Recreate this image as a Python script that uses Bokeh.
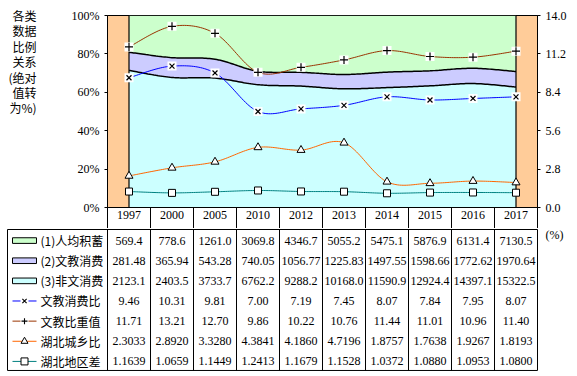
from bokeh.plotting import figure
from bokeh.models import Range1d, LinearAxis, FixedTicker, ColumnDataSource, PrintfTickFormatter
from bokeh.layouts import column
from bokeh.embed import file_html
from bokeh.resources import INLINE
from bokeh.core.properties import value
import numpy as np

# ---------------- data ----------------
years = ["1997", "2000", "2005", "2010", "2012", "2013", "2014", "2015", "2016", "2017"]
savings = [569.4, 778.6, 1261.0, 3069.8, 4346.7, 5055.2, 5475.1, 5876.9, 6131.4, 7130.5]
culture = [281.48, 365.94, 543.28, 740.05, 1056.77, 1225.83, 1497.55, 1598.66, 1772.62, 1970.64]
nonculture = [2123.1, 2403.5, 3733.7, 6762.2, 9288.2, 10168.0, 11590.9, 12924.4, 14397.1, 15322.5]
culture_ratio = [9.46, 10.31, 9.81, 7.00, 7.19, 7.45, 8.07, 7.84, 7.95, 8.07]
culture_weight = [11.71, 13.21, 12.70, 9.86, 10.22, 10.76, 11.44, 11.01, 10.96, 11.40]
urban_rural = [2.3033, 2.8920, 3.3280, 4.3841, 4.1860, 4.7196, 1.8757, 1.7638, 1.9267, 1.8193]
regional_gap = [1.1639, 1.0659, 1.1449, 1.2413, 1.1679, 1.1528, 1.0372, 1.0880, 1.0953, 1.0800]

row_labels = ["(1)人均积蓄", "(2)文教消费", "(3)非文消费", "文教消费比", "文教比重值", "湖北城乡比", "湖北地区差"]
row_decimals = [1, 2, 1, 2, 2, 4, 4]
title_lines = ["各类", "数据", "比例", "关系", "(绝对", "值转", "为%)"]
left_ticks = [0, 20, 40, 60, 80, 100]
right_ticks = [0.0, 2.8, 5.6, 8.4, 11.2, 14.0]
unit_label = "(%)"

SERIF = "Liberation Serif"
CJK = "Noto Sans CJK SC"
C_SAV, C_CUL, C_NON, C_BG = "#CCFFCC", "#CCCCFF", "#CCFFFF", "#FFCC99"
C_RATIO, C_WEIGHT, C_UR, C_GAP = "#0000FF", "#993300", "#FF6600", "#008080"

n = len(years)
xs = np.arange(n) + 0.5
total = np.array(savings) + np.array(culture) + np.array(nonculture)
pct_non = np.array(nonculture) / total * 100
pct_cul_non = (np.array(nonculture) + np.array(culture)) / total * 100


def smooth(ys, k=24):
    P = np.column_stack([xs, np.asarray(ys, float)])
    out = []
    for i in range(len(P) - 1):
        p0 = P[i - 1] if i > 0 else P[i]
        p1, p2 = P[i], P[i + 1]
        p3 = P[i + 2] if i + 2 < len(P) else P[i + 1]
        c1 = p1 + (p2 - p0) / 6
        c2 = p2 - (p3 - p1) / 6
        t = np.linspace(0, 1, k, endpoint=(i == len(P) - 2))[:, None]
        out.append((1 - t) ** 3 * p1 + 3 * (1 - t) ** 2 * t * c1 + 3 * (1 - t) * t ** 2 * c2 + t ** 3 * p2)
    B = np.vstack(out)
    return B[:, 0], B[:, 1]


def no_align(fig):
    if "frame_align" in fig.properties():
        fig.frame_align = False


# ---------------- chart ----------------
CW = 43.0          # px per category column
PY = 1.92          # px per percent
p = figure(width=577, height=228, x_range=Range1d(0, 10), y_range=Range1d(0, 100),
           output_backend="svg", toolbar_location=None,
           min_border_left=107, min_border_right=40, min_border_top=15, min_border_bottom=21,
           x_axis_location=None, y_axis_location=None,
           background_fill_color=C_BG, border_fill_color="white",
           outline_line_color="black", outline_line_width=1)
no_align(p)
p.extra_y_ranges = {"r": Range1d(0, 14)}
p.xgrid.visible = False
p.ygrid.visible = False


def style_axis(ax):
    ax.axis_line_color = "black"
    ax.major_tick_line_color = "black"
    ax.major_label_text_font = SERIF
    ax.major_label_text_font_size = "12px"
    ax.major_label_text_color = "black"


la = LinearAxis(ticker=FixedTicker(ticks=left_ticks, minor_ticks=[]), formatter=PrintfTickFormatter(format="%d%%"))
style_axis(la)
la.major_tick_out = 3
la.major_tick_in = 0
la.major_label_standoff = 5
p.add_layout(la, "left")

# multi-line title at the far left, rendered as an outer axis whose labels are the title lines
title_pos = [(207 - (15 + i * 15.4)) / PY for i in range(len(title_lines))]
ta = LinearAxis(ticker=FixedTicker(ticks=title_pos, minor_ticks=[]),
                major_label_overrides={float(v): s for v, s in zip(title_pos, title_lines)})
ta.axis_line_color = None
ta.major_tick_line_color = None
ta.minor_tick_line_color = None
ta.major_tick_out = 0
ta.major_tick_in = 0
ta.major_label_text_font = CJK
ta.major_label_text_font_size = "12px"
ta.major_label_text_color = "black"
ta.major_label_standoff = 32
p.add_layout(ta, "left")

ra = LinearAxis(y_range_name="r", ticker=FixedTicker(ticks=right_ticks, minor_ticks=[]),
                formatter=PrintfTickFormatter(format="%.1f"))
style_axis(ra)
ra.major_tick_out = 3
ra.major_tick_in = 0
ra.major_label_standoff = 5
p.add_layout(ra, "right")

ba = LinearAxis(ticker=FixedTicker(ticks=list(xs), minor_ticks=list(range(n + 1))),
                major_label_overrides={float(x): y for x, y in zip(xs, years)})
style_axis(ba)
ba.major_tick_out = 0
ba.major_tick_in = 0
ba.minor_tick_line_color = "black"
try:
    ba.minor_tick_in = -22
    ba.minor_tick_out = 0
except Exception:
    ba.minor_tick_in = 0
    ba.minor_tick_out = 22
ba.major_label_standoff = 3
p.add_layout(ba, "below")

sx, s_non = smooth(pct_non)
_, s_cn = smooth(pct_cul_non)
p.varea(x=sx, y1=0, y2=s_non, fill_color=C_NON)
p.varea(x=sx, y1=s_non, y2=s_cn, fill_color=C_CUL)
p.varea(x=sx, y1=s_cn, y2=100, fill_color=C_SAV)
p.line(sx, s_non, line_color="black", line_width=1.5)
p.line(sx, s_cn, line_color="black", line_width=1.5)
p.segment(x0=[xs[0], xs[-1]], y0=[0, 0], x1=[xs[0], xs[-1]], y1=[100, 100], line_color="black", line_width=1.2)
p.segment(x0=[xs[0]], y0=[100], x1=[xs[-1]], y1=[100], line_color="black", line_width=1.2)

for vals, col in [(culture_ratio, C_RATIO), (culture_weight, C_WEIGHT), (urban_rural, C_UR), (regional_gap, C_GAP)]:
    lx, ly = smooth(vals)
    p.line(lx, ly, line_color=col, line_width=1, y_range_name="r")

p.scatter(xs, culture_ratio, marker="square", size=9, fill_color="white", line_color=None, y_range_name="r")
p.scatter(xs, culture_ratio, marker="x", size=7, line_color="black", line_width=1.2, y_range_name="r")
p.scatter(xs, culture_weight, marker="square", size=9, fill_color="white", line_color=None, y_range_name="r")
p.scatter(xs, culture_weight, marker="cross", size=8, line_color="black", line_width=1.2, y_range_name="r")
p.scatter(xs, urban_rural, marker="triangle", size=8, fill_color="white", line_color="black", y_range_name="r")
p.scatter(xs, regional_gap, marker="square", size=7, fill_color="white", line_color="black", y_range_name="r")

# ---------------- table ----------------
RH = 20.14
t = figure(width=577, height=148, x_range=Range1d(-107 / CW, 470 / CW),
           y_range=Range1d((148 - 1) / RH, -1 / RH),
           output_backend="svg", toolbar_location=None, min_border=0,
           min_border_left=0, min_border_right=0, min_border_top=0, min_border_bottom=0,
           x_axis_location=None, y_axis_location=None, outline_line_color=None,
           background_fill_color="white", border_fill_color="white")
no_align(t)
t.xgrid.visible = False
t.ygrid.visible = False

nrows = len(row_labels)
leg_left = (7 - 107) / CW
t.quad(left=[leg_left], right=[n], top=[0], bottom=[nrows], fill_color=None, line_color="black", line_width=1)
t.segment(x0=list(range(n)), y0=[0] * n, x1=list(range(n)), y1=[nrows] * n, line_color="black", line_width=1)

series_rows = [savings, culture, nonculture, culture_ratio, culture_weight, urban_rural, regional_gap]
tx, ty, tt = [], [], []
for r, (vals, d) in enumerate(zip(series_rows, row_decimals)):
    for i, v in enumerate(vals):
        tx.append(i + 0.5)
        ty.append(r + 0.55)
        tt.append(f"{v:.{d}f}")
t.text(x="x", y="y", text="t", source=ColumnDataSource(dict(x=tx, y=ty, t=tt)),
       text_font=value(SERIF), text_font_size="12px", text_align="center", text_baseline="middle",
       text_color="black")

t.text(x=[(40 - 107) / CW] * nrows, y=[r + 0.55 for r in range(nrows)], text=row_labels,
       text_font=value(CJK), text_font_size="12px", text_align="left", text_baseline="middle",
       text_color="black")

kx0, kx1 = (12 - 107) / CW, (36 - 107) / CW
kxm = (kx0 + kx1) / 2
for r, col in enumerate([C_SAV, C_CUL, C_NON]):
    t.quad(left=[kx0], right=[kx1], top=[r + 0.55 - 0.14], bottom=[r + 0.55 + 0.14],
           fill_color=col, line_color="black", line_width=1)

for r, (col, mk) in enumerate([(C_RATIO, "x"), (C_WEIGHT, "cross"), (C_UR, "triangle"), (C_GAP, "square")], start=3):
    yy = r + 0.55
    t.segment(x0=[kx0], y0=[yy], x1=[kx1], y1=[yy], line_color=col, line_width=1)
    if mk in ("x", "cross"):
        t.scatter([kxm], [yy], marker="square", size=8, fill_color="white", line_color=None)
        t.scatter([kxm], [yy], marker=mk, size=6, line_color="black", line_width=1.1)
    else:
        t.scatter([kxm], [yy], marker=mk, size=7, fill_color="white", line_color="black")

t.text(x=[(545 - 107) / CW], y=[(234 - 229) / RH], text=[unit_label], text_font=value(SERIF),
       text_font_size="12px", text_align="left", text_baseline="middle", text_color="black")

layout = column(p, t, spacing=0)
open("out.html", "w").write(file_html(layout, INLINE))
